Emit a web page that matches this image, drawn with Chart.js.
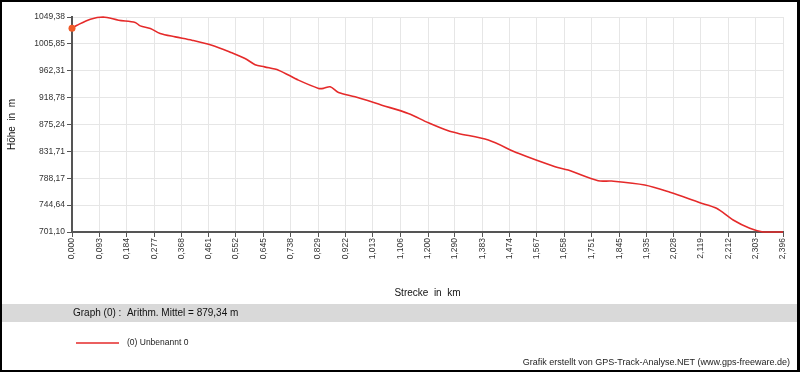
<!DOCTYPE html>
<html>
<head>
<meta charset="utf-8">
<script src="https://cdn.jsdelivr.net/npm/chart.js@4.4.0/dist/chart.umd.min.js"></script>
<style>
  body { margin: 0; background: #fff; }
  canvas { display: block; }
</style>
</head>
<body>
<canvas id="profil" width="800" height="372"></canvas>
<script>
// Streckenprofil (Distanz in km, Höhe in m)
var distKm = [0, 0.017, 0.062, 0.105, 0.157, 0.213, 0.230, 0.264, 0.297, 0.348, 0.404, 0.471, 0.539, 0.583,
  0.617, 0.649, 0.696, 0.763, 0.831, 0.847, 0.870, 0.898, 0.954, 1.044, 1.133, 1.201, 1.268, 1.302, 1.403,
  1.504, 1.628, 1.672, 1.773, 1.818, 1.930, 2.015, 2.116, 2.172, 2.228, 2.284, 2.329, 2.396]
var heightM = [1031.3, 1036.1, 1045.8, 1049.38, 1044.2, 1040.5, 1035.0, 1030.8, 1022.7, 1017.2, 1011.8, 1003.7, 991.3, 982.2,
  972.2, 968.6, 963.3, 947.1, 933.7, 933.7, 936.3, 927.2, 920.1, 906.6, 893.2, 878.0, 865.0, 860.8, 850.0,
  828.5, 806.8, 801.4, 784.1, 783.6, 777.2, 765.4, 748.5, 739.5, 720.5, 707.1, 701.1, 701.1]

var xTicks = [0, 0.093, 0.184, 0.277, 0.368, 0.461, 0.552, 0.645, 0.738, 0.829, 0.922, 1.013, 1.106, 1.200,
  1.290, 1.383, 1.474, 1.567, 1.658, 1.751, 1.845, 1.935, 2.028, 2.119, 2.212, 2.303, 2.396]
var yTicks = [701.10, 744.64, 788.17, 831.71, 875.24, 918.78, 962.31, 1005.85, 1049.38]
var yTickLabels = ['701,10', '744,64', '788,17', '831,71', '875,24', '918,78', '962,31', '1005,85', '1049,38']

var mittelText = 'Graph (0) :  Arithm. Mittel = 879,34 m'
var serienName = '(0) Unbenannt 0'
var fussText = 'Grafik erstellt von GPS-Track-Analyse.NET (www.gps-freeware.de)'

var fontName = "'Liberation Sans', Arial, sans-serif"
var lineColor = '#e52a2a'

var extras = {
  id: 'extras',
  beforeDraw: function (chart) {
    var c = chart.ctx
    c.save()
    c.fillStyle = '#fff'
    c.fillRect(0, 0, chart.width, chart.height)
    c.restore()
  },
  afterDraw: function (chart) {
    var c = chart.ctx
    c.save()
    // grauer Balken mit Mittelwert
    c.fillStyle = '#d9d9d9'
    c.fillRect(2, 304, 795, 18)
    c.fillStyle = '#111'
    c.font = '10px ' + fontName
    c.textBaseline = 'middle'
    c.fillText(mittelText, 73, 313.5)
    // Legende
    c.strokeStyle = lineColor
    c.lineWidth = 1.5
    c.beginPath()
    c.moveTo(76, 343)
    c.lineTo(119, 343)
    c.stroke()
    c.fillStyle = '#222'
    c.font = '8.5px ' + fontName
    c.fillText(serienName, 127, 343)
    // Fusszeile
    c.font = '9px ' + fontName
    c.textAlign = 'right'
    c.fillText(fussText, 790, 363)
    // Rahmen
    c.fillStyle = '#000'
    c.fillRect(0, 0, 800, 2)
    c.fillRect(0, 0, 2, 372)
    c.fillRect(797, 0, 3, 372)
    c.fillRect(0, 370, 800, 2)
    c.restore()
  }
}

var ctx = document.getElementById('profil').getContext('2d')

var myChart = new Chart(ctx, {
  type: 'line',
  data: {
    datasets: [{
      label: serienName,
      data: distKm.map(function (d, i) { return { x: d, y: heightM[i] } }),
      borderColor: lineColor,
      borderWidth: 1.6,
      backgroundColor: '#f05a28',
      pointRadius: function (c) { return c.dataIndex === 0 ? 3.5 : 0 },
      pointBorderWidth: 0,
      tension: 0.3,
      clip: false,
      fill: false
    }]
  },
  options: {
    responsive: false,
    animation: false,
    layout: { padding: { top: 17, right: 17, bottom: 72, left: 0 } },
    plugins: {
      legend: { display: false },
      tooltip: { enabled: false }
    },
    scales: {
      x: {
        type: 'linear',
        min: 0,
        max: 2.396,
        afterBuildTicks: function (scale) {
          scale.ticks = xTicks.map(function (v) { return { value: v } })
        },
        afterFit: function (scale) { scale.height = 68 },
        ticks: {
          autoSkip: false,
          minRotation: 90,
          maxRotation: 90,
          padding: 1,
          color: '#333',
          font: { family: fontName, size: 8.5 },
          callback: function (v) { return v.toFixed(3).replace('.', ',') }
        },
        grid: { color: '#e6e6e6', tickColor: '#555', tickLength: 5 },
        border: { color: '#555', width: 2 },
        title: {
          display: true,
          text: 'Strecke  in  km',
          color: '#111',
          font: { family: fontName, size: 10 },
          padding: { top: 0, bottom: 1 }
        }
      },
      y: {
        min: 701.10,
        max: 1049.38,
        afterBuildTicks: function (scale) {
          scale.ticks = yTicks.map(function (v) { return { value: v } })
        },
        afterFit: function (scale) { scale.width = 72 },
        ticks: {
          padding: 2,
          color: '#333',
          font: { family: fontName, size: 8.5 },
          callback: function (v, i) { return yTickLabels[i] }
        },
        grid: { color: '#e6e6e6', tickColor: '#555', tickLength: 5 },
        border: { color: '#555', width: 2 },
        title: {
          display: true,
          text: 'Höhe  in  m',
          color: '#111',
          font: { family: fontName, size: 10 },
          padding: { top: 6, bottom: 0 }
        }
      }
    }
  },
  plugins: [extras]
})
</script>
</body>
</html>
